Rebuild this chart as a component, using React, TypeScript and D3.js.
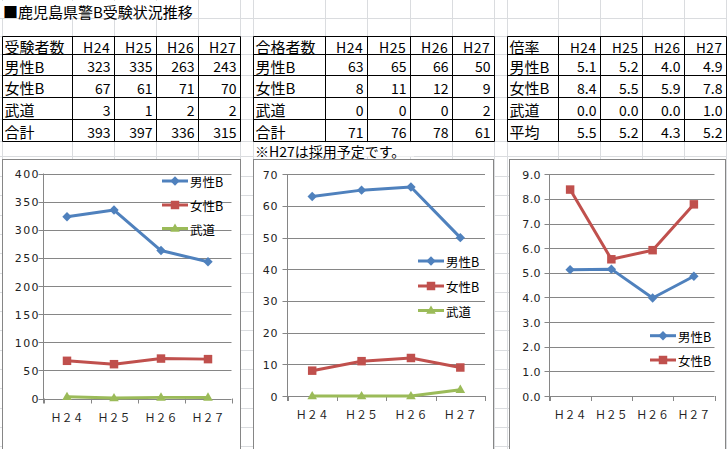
import React from "react";
import * as d3 from "d3";

// ---------- data ----------
const years = ["H24", "H25", "H26", "H27"];
const axisLabels = ["Ｈ２４", "Ｈ２５", "Ｈ２６", "Ｈ２７"];
const seriesNames = ["男性B", "女性B", "武道"];

const applicantsMale = [323, 335, 263, 243];
const applicantsFemale = [67, 61, 71, 70];
const applicantsBudo = [3, 1, 2, 2];
const applicantsTotal = [393, 397, 336, 315];

const passMale = [63, 65, 66, 50];
const passFemale = [8, 11, 12, 9];
const passBudo = [0, 0, 0, 2];
const passTotal = [71, 76, 78, 61];

const rateMale = [5.13, 5.15, 3.98, 4.86];
const rateFemale = [8.38, 5.55, 5.92, 7.78];
const rateBudo = [0, 0, 0, 1.0];
const rateAvg = [5.54, 5.22, 4.31, 5.16];

const title = "■鹿児島県警B受験状況推移";
const note = "※H27は採用予定です。";

// ---------- styles ----------
const COLORS = ["#4F81BD", "#C0504D", "#9BBB59"];
const SHAPES = ["diamond", "square", "triangle"];
const JP = "'Noto Sans CJK JP', 'Noto Sans', sans-serif";
const NUM = "'DejaVu Sans', sans-serif";
const GRID = "#dadcdf";
const CHART_GRAY = "#868686";

const rowEdges = [36.5, 54.5, 75.5, 97.5, 119.5, 141.5];
const tableCols = [
  [2.5, 72.5, 114.5, 156.5, 198.5, 240.5],
  [253.5, 325.5, 367.5, 410.5, 452.5, 494.5],
  [507.5, 558.5, 600.5, 642.5, 684.5, 726.5],
];

function Marker({ shape, x, y, color }: { shape: string; x: number; y: number; color: string }) {
  if (shape === "diamond") {
    const p = d3.symbol(d3.symbolSquare, 44)();
    return <path d={p!} transform={`translate(${x},${y}) rotate(45)`} fill={color} />;
  }
  if (shape === "square") {
    const p = d3.symbol(d3.symbolSquare, 72)();
    return <path d={p!} transform={`translate(${x},${y})`} fill={color} />;
  }
  const p = d3.symbol(d3.symbolTriangle, 40)();
  return <path d={p!} transform={`translate(${x},${y + 0.5})`} fill={color} />;
}

function Table({
  cols,
  header,
  rowLabels,
  values,
  fmt,
  numFont,
  numSize,
  headSize,
}: {
  cols: number[];
  header: string;
  rowLabels: string[];
  values: number[][];
  fmt: (v: number) => string;
  numFont: string;
  numSize: number;
  headSize: number;
}) {
  const els: React.ReactNode[] = [];
  els.push(
    <rect key="bg" x={cols[0]} y={rowEdges[0]} width={cols[cols.length - 1] - cols[0]} height={rowEdges[rowEdges.length - 1] - rowEdges[0]} fill="#fff" />
  );
  const cy = (r: number) => (rowEdges[r] + rowEdges[r + 1]) / 2 + 1;
  els.push(
    <text key="h" x={cols[0] + 2} y={cy(0)} fontSize={15} fontFamily={JP} dominantBaseline="central">
      {header}
    </text>
  );
  years.forEach((yr, i) => {
    els.push(
      <text key={"y" + i} x={cols[i + 2] - 4} y={cy(0)} fontSize={headSize} fontFamily={JP} letterSpacing={0.6} textAnchor="end" dominantBaseline="central">
        {yr}
      </text>
    );
  });
  rowLabels.forEach((lab, r) => {
    els.push(
      <text key={"r" + r} x={cols[0] + 2} y={cy(r + 1)} fontSize={15} fontFamily={JP} dominantBaseline="central">
        {lab}
      </text>
    );
    values[r].forEach((v, i) => {
      els.push(
        <text key={"v" + r + "_" + i} x={cols[i + 2] - 4} y={cy(r + 1)} fontSize={numSize} fontFamily={numFont} textAnchor="end" dominantBaseline="central">
          {fmt(v)}
        </text>
      );
    });
  });
  rowEdges.forEach((y, i) => {
    els.push(<line key={"hl" + i} x1={cols[0]} x2={cols[cols.length - 1]} y1={y} y2={y} stroke="#000" strokeWidth={1} />);
  });
  cols.forEach((x, i) => {
    els.push(<line key={"vl" + i} x1={x} x2={x} y1={rowEdges[0]} y2={rowEdges[rowEdges.length - 1]} stroke="#000" strokeWidth={1} />);
  });
  return <g>{els}</g>;
}

type ChartCfg = {
  box: [number, number, number];
  x0: number;
  x1: number;
  yBottom: number;
  yTop: number;
  max: number;
  step: number;
  fmt: (v: number) => string;
  labelEnd: number;
  labelSpacing: number;
  xLabelY: number;
  series: number[][];
  legendX: number;
  legendYs: number[];
};

function Chart({ cfg }: { cfg: ChartCfg }) {
  const x = d3.scaleBand<string>().domain(axisLabels).range([cfg.x0, cfg.x1]).padding(0);
  const y = d3.scaleLinear().domain([0, cfg.max]).range([cfg.yBottom, cfg.yTop]);
  const ticks = d3.range(0, cfg.max + cfg.step / 2, cfg.step);
  const [bx, by, bw] = cfg.box;
  const line = d3
    .line<number>()
    .x((_, i) => (x(axisLabels[i]) as number) + x.bandwidth() / 2)
    .y((v) => y(v));
  const bounds = axisLabels.map((l) => x(l) as number).concat([cfg.x1]);
  return (
    <g>
      <rect x={bx} y={by} width={bw} height={320} fill="#fff" stroke={CHART_GRAY} strokeWidth={1} />
      {ticks.map((t) => (
        <g key={"t" + t}>
          <line x1={cfg.x0 - 5} x2={cfg.x1} y1={Math.round(y(t)) + 0.5} y2={Math.round(y(t)) + 0.5} stroke={CHART_GRAY} strokeWidth={1} />
          <text
            x={cfg.labelEnd}
            y={y(t) + 1}
            fontSize={11}
            fontFamily={NUM}
            letterSpacing={cfg.labelSpacing}
            textAnchor="end"
            dominantBaseline="central"
            fill="#222"
          >
            {cfg.fmt(t)}
          </text>
        </g>
      ))}
      <line x1={cfg.x0} x2={cfg.x0} y1={cfg.yTop} y2={cfg.yBottom + 5} stroke={CHART_GRAY} strokeWidth={1} />
      {bounds.map((b, i) => (
        <line key={"b" + i} x1={Math.round(b) + 0.5} x2={Math.round(b) + 0.5} y1={cfg.yBottom} y2={cfg.yBottom + 5} stroke={CHART_GRAY} strokeWidth={1} />
      ))}
      {axisLabels.map((l) => (
        <text key={l} x={(x(l) as number) + x.bandwidth() / 2} y={cfg.xLabelY} fontSize={11} fontFamily={JP} textAnchor="middle" dominantBaseline="central" fill="#222">
          {l}
        </text>
      ))}
      {cfg.series.map((s, si) => (
        <g key={"s" + si}>
          <path d={line(s)!} fill="none" stroke={COLORS[si]} strokeWidth={3} strokeLinejoin="round" />
          {s.map((v, i) => (
            <Marker key={i} shape={SHAPES[si]} x={(x(axisLabels[i]) as number) + x.bandwidth() / 2} y={y(v)} color={COLORS[si]} />
          ))}
        </g>
      ))}
      {cfg.legendYs.map((ly, si) => (
        <g key={"l" + si}>
          <line x1={cfg.legendX} x2={cfg.legendX + 26} y1={ly} y2={ly} stroke={COLORS[si]} strokeWidth={3} />
          <Marker shape={SHAPES[si]} x={cfg.legendX + 13} y={ly} color={COLORS[si]} />
          <text x={cfg.legendX + 28} y={ly + 0.5} fontSize={12.5} fontFamily={JP} dominantBaseline="central" fill="#000">
            {seriesNames[si]}
          </text>
        </g>
      ))}
    </g>
  );
}

export default function App() {
  const W = 727;
  const H = 449;
  const vGrid = [2.5, ...tableCols[0].slice(1), ...tableCols[1], ...tableCols[2]];
  const hGrid = [18.5, ...rowEdges, 156.5];
  for (let yy = 176; yy < H; yy += 19.3) hGrid.push(Math.round(yy) + 0.5);

  const charts: ChartCfg[] = [
    {
      box: [2.5, 159.5, 238],
      x0: 43.5,
      x1: 231.5,
      yBottom: 398.5,
      yTop: 173.5,
      max: 400,
      step: 50,
      fmt: d3.format("d"),
      labelEnd: 40,
      labelSpacing: 1.4,
      xLabelY: 417,
      series: [applicantsMale, applicantsFemale, applicantsBudo],
      legendX: 162,
      legendYs: [181, 205, 228.5],
    },
    {
      box: [253.5, 159.5, 240],
      x0: 287.5,
      x1: 485,
      yBottom: 396,
      yTop: 174.3,
      max: 70,
      step: 10,
      fmt: d3.format("d"),
      labelEnd: 278,
      labelSpacing: 0.6,
      xLabelY: 413.5,
      series: [passMale, passFemale, passBudo],
      legendX: 418,
      legendYs: [261, 286, 310.5],
    },
    {
      box: [509.5, 159.5, 216],
      x0: 549.5,
      x1: 714.5,
      yBottom: 396,
      yTop: 174.3,
      max: 9,
      step: 1,
      fmt: d3.format(".1f"),
      labelEnd: 541,
      labelSpacing: 0.4,
      xLabelY: 413.5,
      series: [rateMale, rateFemale],
      legendX: 650,
      legendYs: [335.7, 360],
    },
  ];

  return (
    <svg
      width={W}
      height={H}
      viewBox={`0 0 ${W} ${H}`}
      style={{ position: "fixed", left: 0, top: 0, background: "#fff" }}
    >
      <rect x={0} y={0} width={W} height={H} fill="#fff" />
      {vGrid.map((gx, i) => (
        <line key={"vg" + i} x1={gx} x2={gx} y1={0} y2={H} stroke={GRID} strokeWidth={1} />
      ))}
      {hGrid.map((gy, i) => (
        <line key={"hg" + i} x1={0} x2={W} y1={gy} y2={gy} stroke={GRID} strokeWidth={1} />
      ))}
      <rect x={1} y={1} width={194} height={17} fill="#fff" />
      <text x={3} y={11} fontSize={15} fontFamily={JP} dominantBaseline="central">
        {title}
      </text>
      <Table
        cols={tableCols[0]}
        header="受験者数"
        rowLabels={["男性B", "女性B", "武道", "合計"]}
        values={[applicantsMale, applicantsFemale, applicantsBudo, applicantsTotal]}
        fmt={d3.format("d")}
        numFont={JP}
        numSize={14}
        headSize={14}
      />
      <Table
        cols={tableCols[1]}
        header="合格者数"
        rowLabels={["男性B", "女性B", "武道", "合計"]}
        values={[passMale, passFemale, passBudo, passTotal]}
        fmt={d3.format("d")}
        numFont={JP}
        numSize={14}
        headSize={14}
      />
      <Table
        cols={tableCols[2]}
        header="倍率"
        rowLabels={["男性B", "女性B", "武道", "平均"]}
        values={[rateMale, rateFemale, rateBudo, rateAvg]}
        fmt={(v) => v.toFixed(1)}
        numFont={JP}
        numSize={14}
        headSize={13.5}
      />
      <rect x={254} y={142.5} width={160} height={14} fill="#fff" />
      <text x={255} y={151} fontSize={14} fontFamily={JP} dominantBaseline="central">
        {note}
      </text>
      {charts.map((c, i) => (
        <Chart key={i} cfg={c} />
      ))}
    </svg>
  );
}
